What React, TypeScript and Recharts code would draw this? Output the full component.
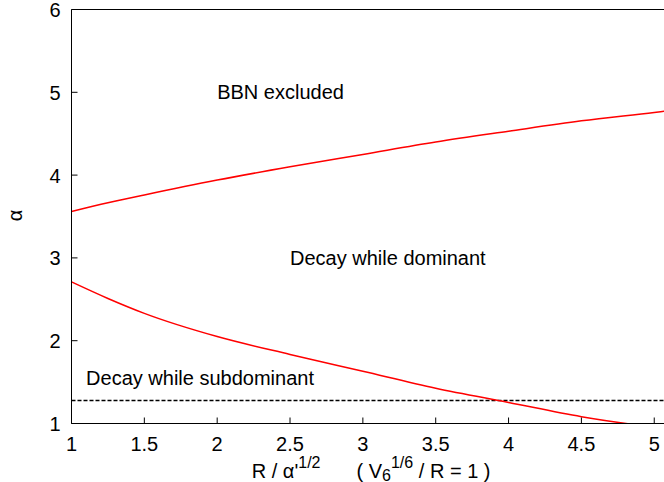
import { LineChart, Line, XAxis, YAxis, ReferenceLine, ReferenceDot, Label } from 'recharts';

// upper red curve (BBN bound)
const upperX = [1, 1.25, 1.5, 2, 2.5, 3, 3.5, 4, 4.5, 5, 5.07];
const upperAlpha = [3.56, 3.665, 3.76, 3.94, 4.1, 4.25, 4.4, 4.53, 4.655, 4.757, 4.772];

// lower red curve (dominance bound)
const lowerX = [1, 1.25, 1.5, 2, 2.5, 3, 3.5, 4, 4.5, 5, 5.07];
const lowerAlpha = [2.71, 2.51, 2.33, 2.05, 1.834, 1.63, 1.426, 1.254, 1.082, 0.955, 0.94];

// dashed horizontal line
const subdominantAlpha = 1.278;

const xTicks = [1, 1.5, 2, 2.5, 3, 3.5, 4, 4.5, 5];
const yTicks = [1, 2, 3, 4, 5, 6];

const regionLabels = ['BBN excluded', 'Decay while dominant', 'Decay while subdominant'];
const regionX = [2, 2.5, 1.1];
const regionY = [5, 3, 1.55];

const FONT = '"Liberation Sans", Arial, Helvetica, sans-serif';
const FS = 20;

const upperData = upperX.map((x, i) => ({ x, alpha: upperAlpha[i] }));
const lowerData = lowerX.map((x, i) => ({ x, alpha: lowerAlpha[i] }));

const XTick = ({ x, y, payload }: any) => (
  <g>
    <line x1={x} x2={x} y1={y} y2={y - 6} stroke="#000" strokeWidth={1} />
    <text x={x} y={y + 27} textAnchor="middle" fontSize={FS} fontFamily={FONT} fill="#000">
      {payload.value}
    </text>
  </g>
);

const YTick = ({ x, y, payload }: any) => (
  <g>
    <line x1={x} x2={x + 6} y1={y} y2={y} stroke="#000" strokeWidth={1} />
    <text x={x - 11} y={y + 7.5} textAnchor="end" fontSize={FS} fontFamily={FONT} fill="#000">
      {payload.value}
    </text>
  </g>
);

const XTitle = ({ viewBox }: any) => {
  const cx = viewBox.x + viewBox.width / 2;
  return (
    <text
      x={cx - 116}
      y={viewBox.y + 54}
      fontSize={FS}
      fontFamily={FONT}
      fill="#000"
      style={{ whiteSpace: 'pre' }}
    >
      <tspan>R / α'</tspan>
      <tspan dy={-10} fontSize={16}>1/2</tspan>
      <tspan dy={10} dx={36}>( V</tspan>
      <tspan dy={3} fontSize={16}>6</tspan>
      <tspan dy={-13} fontSize={16}>1/6</tspan>
      <tspan dy={10}> / R = 1 )</tspan>
    </text>
  );
};

const YTitle = ({ viewBox }: any) => {
  const cy = viewBox.y + viewBox.height / 2 - 1;
  const x = viewBox.x + 22;
  return (
    <text
      x={x}
      y={cy}
      transform={`rotate(-90, ${x}, ${cy})`}
      textAnchor="middle"
      fontSize={FS}
      fontFamily={FONT}
      fill="#000"
    >
      α
    </text>
  );
};

export default function App() {
  return (
    <div style={{ position: 'fixed', top: 0, left: 0, width: 664, height: 482, background: '#fff' }}>
      <LineChart width={664} height={482} margin={{ top: 9.5, right: 0, bottom: 0, left: 0 }}>
        <XAxis
          dataKey="x"
          type="number"
          domain={[1, 5.067]}
          ticks={xTicks}
          allowDataOverflow
          height={58.5}
          axisLine={{ stroke: '#000', strokeWidth: 1 }}
          tickLine={false}
          tickSize={0}
          tickMargin={0}
          tick={<XTick />}
          interval={0}
        >
          <Label content={<XTitle />} />
        </XAxis>
        <YAxis
          type="number"
          domain={[1, 6]}
          ticks={yTicks}
          allowDataOverflow
          width={71.5}
          axisLine={{ stroke: '#000', strokeWidth: 1 }}
          tickLine={false}
          tickSize={0}
          tickMargin={0}
          tick={<YTick />}
          interval={0}
        >
          <Label content={<YTitle />} />
        </YAxis>
        <ReferenceLine y={6} stroke="#000" strokeWidth={1} />
        <ReferenceLine y={subdominantAlpha} stroke="#000" strokeWidth={1.3} strokeDasharray="4 2" />
        <Line
          data={upperData}
          dataKey="alpha"
          type="monotone"
          stroke="#ff0000"
          strokeWidth={1.5}
          dot={false}
          isAnimationActive={false}
        />
        <Line
          data={lowerData}
          dataKey="alpha"
          type="monotone"
          stroke="#ff0000"
          strokeWidth={1.5}
          dot={false}
          isAnimationActive={false}
        />
        {regionLabels.map((label, i) => (
          <ReferenceDot
            key={label}
            x={regionX[i]}
            y={regionY[i]}
            r={0}
            shape={(p: any) => (
              <text x={p.cx} y={p.cy + 7} fontSize={FS} fontFamily={FONT} fill="#000">
                {label}
              </text>
            )}
          />
        ))}
      </LineChart>
    </div>
  );
}
